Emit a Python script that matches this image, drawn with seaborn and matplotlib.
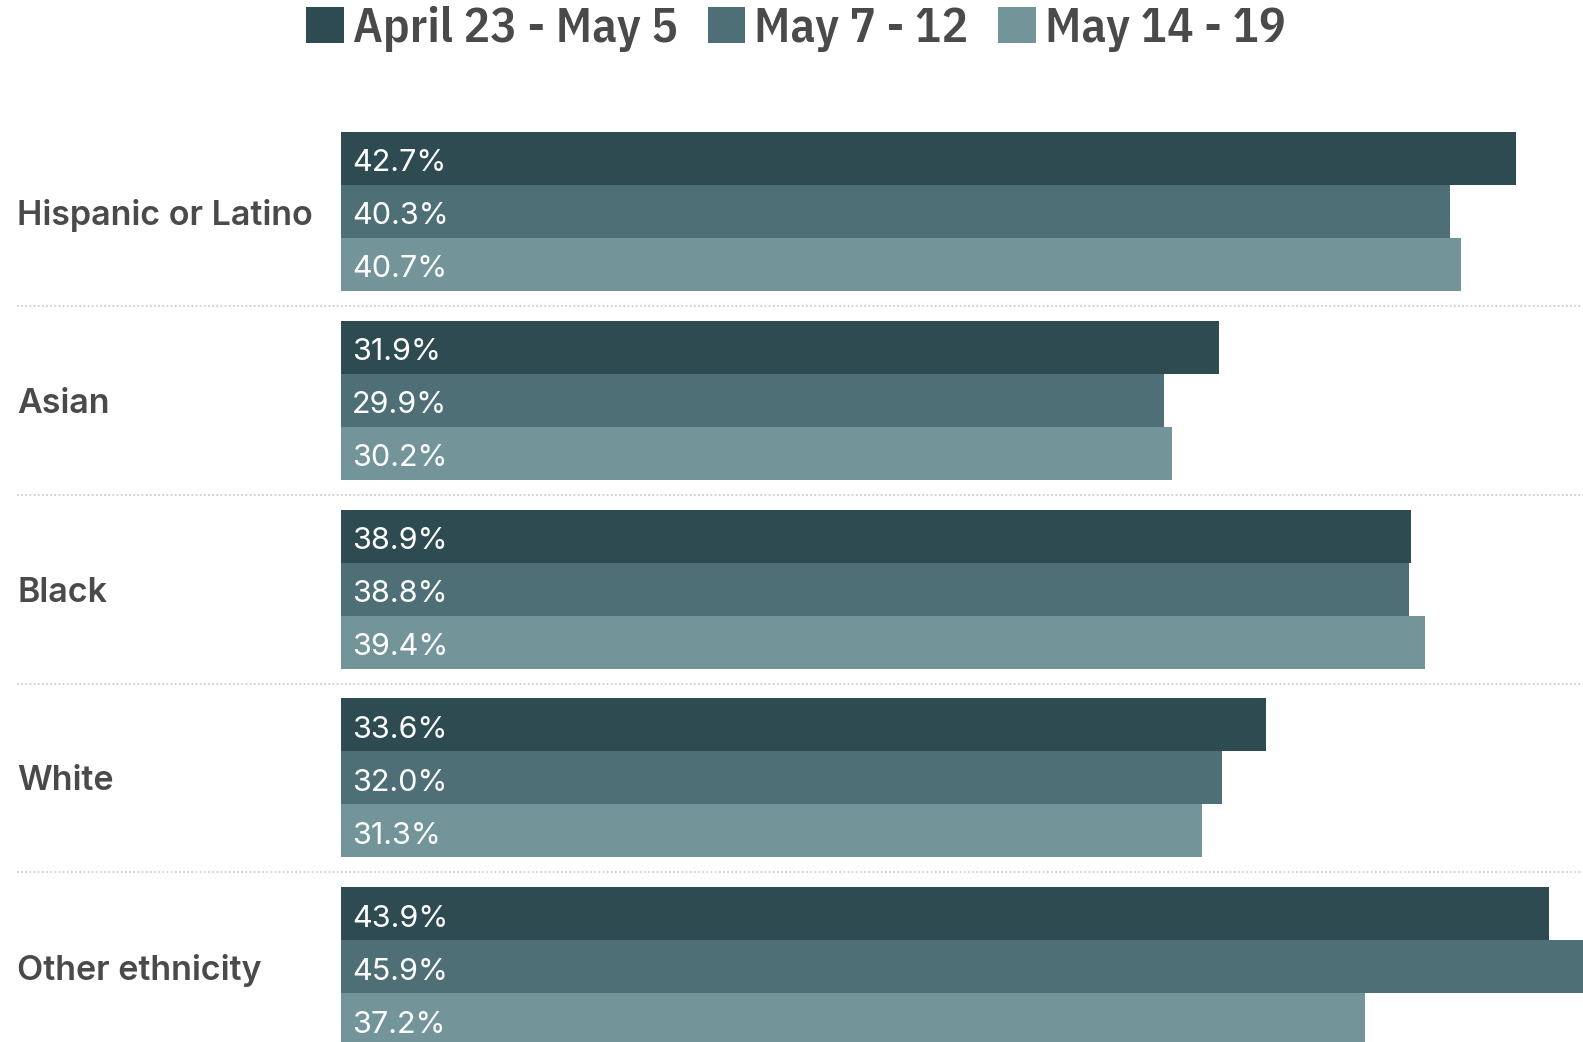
import matplotlib
matplotlib.use("Agg")
import matplotlib.pyplot as plt
import matplotlib.transforms as mtransforms
import seaborn as sns
import pandas as pd

groups = ["Hispanic or Latino", "Asian", "Black", "White", "Other ethnicity"]
periods = ["April 23 - May 5", "May 7 - 12", "May 14 - 19"]
values_apr23_may5 = [42.7, 31.9, 38.9, 33.6, 43.9]
values_may7_12 = [40.3, 29.9, 38.8, 32.0, 45.9]
values_may14_19 = [40.7, 30.2, 39.4, 31.3, 37.2]
colors = ["#2d4b50", "#4e6f76", "#739599"]

series = [values_apr23_may5, values_may7_12, values_may14_19]
df = pd.DataFrame(
    [(g, p, v) for p, vals in zip(periods, series) for g, v in zip(groups, vals)],
    columns=["group", "period", "value"],
)

sns.set_theme(style="white")
body_font = ["Inter", "Lato", "DejaVu Sans"]
legend_font = ["IBM Plex Sans Condensed", "Roboto Condensed", "DejaVu Sans"]
plt.rcParams["font.family"] = body_font

W, H = 1583, 1042
fig = plt.figure(figsize=(W / 100, H / 100), dpi=100)
left_px = 341
ax = fig.add_axes([left_px / W, 0, 1 - left_px / W, 1])

sns.barplot(
    data=df, y="group", x="value", hue="period", order=groups, hue_order=periods,
    orient="h", palette=colors, saturation=1, width=0.842, gap=0, linewidth=0,
    ax=ax,
)

px_per_unit = (1516 - left_px) / 42.7
ax.set_xlim(0, (W - left_px) / px_per_unit)
group_pitch = 188.8
first_center = 211.5
ax.set_ylim((H - first_center) / group_pitch, -first_center / group_pitch)

for s in ax.spines.values():
    s.set_visible(False)
ax.set_xticks([])
ax.set_xlabel("")
ax.set_ylabel("")
ax.tick_params(axis="y", length=0, pad=(left_px - 17) * 0.72)
ax.set_yticks(range(len(groups)))
ax.set_yticklabels(groups, fontsize=24.5, fontweight="semibold", color="#4a4a4a",
                   family=body_font)
for lbl in ax.get_yticklabels():
    lbl.set_horizontalalignment("left")

# value labels at the base of each bar
for container, vals in zip(ax.containers, series):
    for bar, v in zip(container, vals):
        cy = bar.get_y() + bar.get_height() / 2
        ax.annotate(f"{v:.1f}%", xy=(0, cy), xytext=(8, -3.5), textcoords="offset points",
                    va="center", ha="left", color="white", fontsize=22,
                    family=body_font)

# dotted separators between groups
trans = mtransforms.blended_transform_factory(fig.transFigure, ax.transData)
for i in range(len(groups) - 1):
    y = i + 0.5
    ax.plot([17 / W, 1], [y, y], transform=trans, color="#cfcfcf", lw=1.3,
            ls=(0, (1, 1.3)), clip_on=False)

handles, labels = ax.get_legend_handles_labels()
if ax.get_legend() is not None:
    ax.get_legend().remove()
fig.legend(handles, labels, loc="center", bbox_to_anchor=(796 / W, 1 - 29 / H),
           ncol=3, frameon=False, handlelength=0.76, handleheight=0.76,
           handletextpad=0.19, columnspacing=0.6, borderaxespad=0,
           prop={"family": legend_font, "size": 35.5, "weight": "semibold"},
           labelcolor="#4a4a4a")

fig.savefig("out.png", dpi=100)
